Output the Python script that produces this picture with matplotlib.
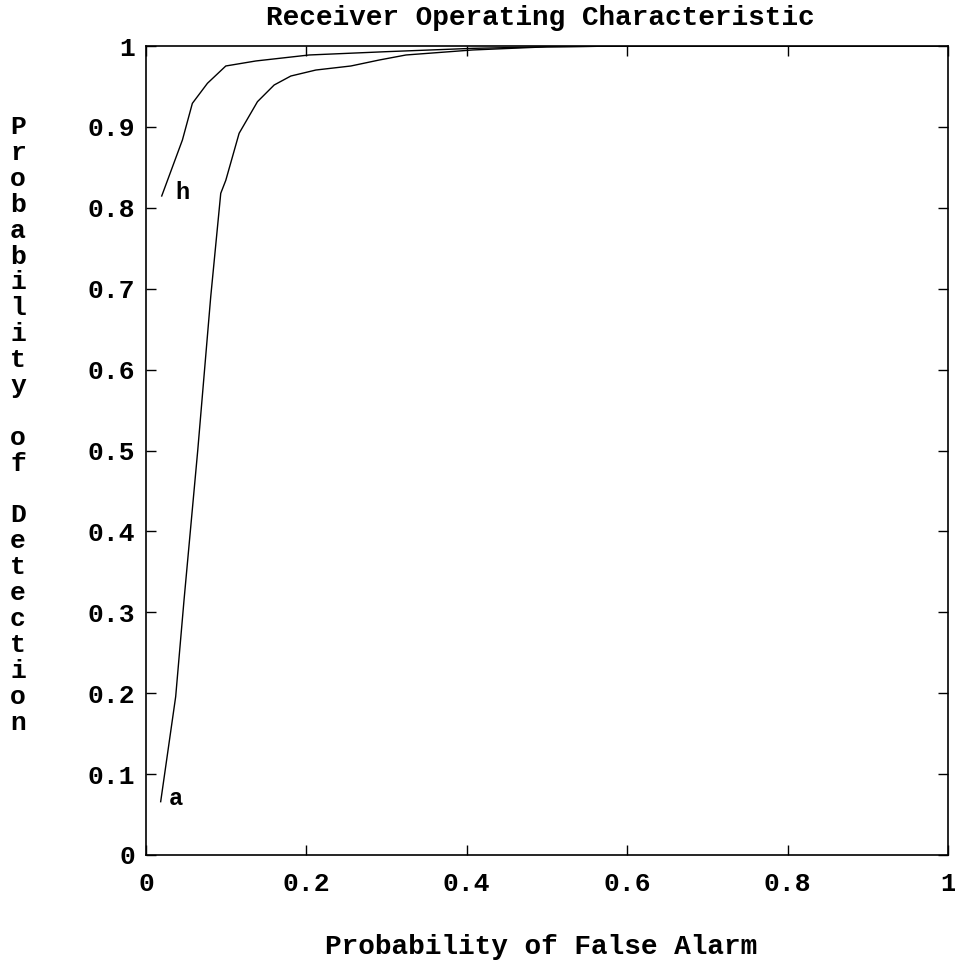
import matplotlib
matplotlib.use("Agg")
import matplotlib.pyplot as plt

# ROC curve data
h_pfa = [0.0196, 0.0454, 0.0578, 0.0766, 0.0995, 0.137, 0.2035, 0.30, 0.4074, 0.50, 0.60, 1.0]
h_pd  = [0.8146, 0.8838, 0.9291, 0.9539, 0.9753, 0.9815, 0.9889, 0.993, 0.9971, 0.999, 1.0, 1.0]

a_pfa = [0.0183, 0.037, 0.0474, 0.0645, 0.0807, 0.0932, 0.0995, 0.1161, 0.139, 0.1598,
         0.1806, 0.2118, 0.2555, 0.2909, 0.3242, 0.4074, 0.50, 0.60, 1.0]
a_pd  = [0.0659, 0.1957, 0.315, 0.50, 0.69, 0.8179, 0.834, 0.8921, 0.9312, 0.9518,
         0.9629, 0.9703, 0.9753, 0.9827, 0.9889, 0.9951, 0.999, 1.0, 1.0]

curve_labels = ["h", "a"]
label_pos = [(0.045, 0.8195), (0.037, 0.070)]

xticks = [0, 0.2, 0.4, 0.6, 0.8, 1]
xticklabels = ["0", "0.2", "0.4", "0.6", "0.8", "1"]
yticks = [0, 0.1, 0.2, 0.3, 0.4, 0.5, 0.6, 0.7, 0.8, 0.9, 1]
yticklabels = ["0", "0.1", "0.2", "0.3", "0.4", "0.5", "0.6", "0.7", "0.8", "0.9", "1"]

title = "Receiver Operating Characteristic"
xlabel = "Probability of False Alarm"
ylabel = "Probability of Detection"

FONT = "Liberation Mono"

fig = plt.figure(figsize=(9.55, 9.61), dpi=100)
ax = fig.add_axes([146/955, 1-855/961, (948-146)/955, (855-46)/961])

ax.plot(h_pfa, h_pd, color="black", lw=1.0)
ax.plot(a_pfa, a_pd, color="black", lw=1.0)
for lab, (lx, ly) in zip(curve_labels, label_pos):
    ax.text(lx, ly, lab, fontfamily=FONT, fontweight="bold", fontsize=17,
            ha="center", va="center")

ax.set_xlim(0, 1)
ax.set_ylim(0, 1)
ax.set_xticks(xticks)
ax.set_xticklabels(xticklabels, fontfamily=FONT, fontweight="bold", fontsize=19)
ax.set_yticks(yticks)
ax.set_yticklabels(yticklabels, fontfamily=FONT, fontweight="bold", fontsize=19)
ax.tick_params(direction="in", length=7, width=1, top=True, right=True, pad=12)
ax.tick_params(axis="y", pad=8)
for s in ax.spines.values():
    s.set_linewidth(1.2)

fig.text(540/955, 1-18/961, title, fontfamily=FONT, fontweight="bold", fontsize=20,
         ha="center", va="center")
fig.text(541/955, 1-947/961, xlabel, fontfamily=FONT, fontweight="bold", fontsize=20,
         ha="center", va="center")

# vertical stacked y label, one character per line
lines = list(ylabel)
pitch = 25.9
y0 = 127
for i, ch in enumerate(lines):
    if ch == " ":
        continue
    fig.text(18/955, 1-(y0 + i*pitch)/961, ch, fontfamily=FONT, fontweight="bold",
             fontsize=19, ha="center", va="center")

fig.savefig("out.png", dpi=100)
